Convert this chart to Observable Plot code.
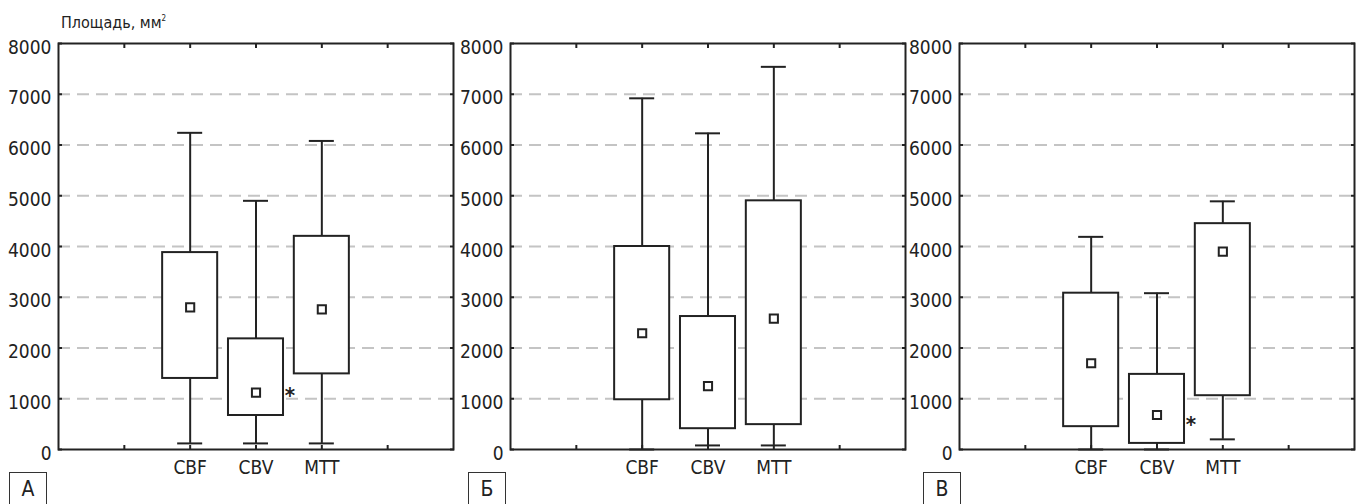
<!DOCTYPE html>
<html><head><meta charset="utf-8">
<script src="https://cdn.jsdelivr.net/npm/d3@7"></script>
<script src="https://cdn.jsdelivr.net/npm/@observablehq/plot@0.6"></script>
<style>
body{margin:0;background:#fff;}
#wrap{position:relative;width:1362px;height:504px;overflow:hidden;font-family:"Liberation Sans Narrow","Arial Narrow","DejaVu Sans Condensed",sans-serif;color:#222;}
.panel{position:absolute;top:0;width:457px;height:504px;}
.tag{position:absolute;top:472px;width:36px;height:40px;border:1.3px solid #333;border-bottom:none;font-size:21px;text-align:center;line-height:33px;}
#title{position:absolute;left:61px;top:13px;font-size:16px;white-space:nowrap;}
#title sup{font-size:8px;vertical-align:top;position:relative;top:1px;}
</style></head><body><div id="wrap"><div id="title">Площадь, мм<sup>2</sup></div></div>
<script>
const categories = ["CBF", "CBV", "MTT"];
const panelLabels = ["А", "Б", "В"];
const yTicks = [0, 1000, 2000, 3000, 4000, 5000, 6000, 7000, 8000];
const gridTicks = [1000, 2000, 3000, 4000, 5000, 6000, 7000];
const slotTicks = [1, 2, 3, 4, 5];

// Panel A
const aMin = [120, 120, 120];
const aQ1 = [1400, 670, 1490];
const aMean = [2800, 1120, 2760];
const aQ3 = [3880, 2180, 4200];
const aMax = [6240, 4900, 6080];
const aStar = [null, 1100, null];
// Panel Б
const bMin = [0, 80, 80];
const bQ1 = [980, 410, 490];
const bMean = [2290, 1250, 2580];
const bQ3 = [4000, 2620, 4900];
const bMax = [6920, 6230, 7540];
const bStar = [null, null, null];
// Panel В
const cMin = [0, 0, 200];
const cQ1 = [450, 120, 1060];
const cMean = [1700, 680, 3900];
const cQ3 = [3080, 1480, 4450];
const cMax = [4190, 3080, 4890];
const cStar = [null, 530, null];

const panelLeft = [0, 452, 901];
const tagLeft = [9, 468, 923];
const FONT = '"Liberation Sans Narrow","Arial Narrow","DejaVu Sans Condensed",sans-serif';
const INK = "#222";

function panel(mins, q1, means, q3, maxs, stars) {
  const data = categories.map((c, i) => ({cat: c, pos: i + 2, lo: mins[i], q1: q1[i], mean: means[i], q3: q3[i], hi: maxs[i], star: stars[i]}));
  const half = 0.418, cap = 0.19;
  return Plot.plot({
    width: 457, height: 504,
    marginLeft: 58, marginRight: 4, marginTop: 43, marginBottom: 55,
    style: {fontFamily: FONT, fontSize: "19px", color: INK, background: "transparent", overflow: "visible"},
    x: {domain: [0, 6], axis: null},
    y: {domain: [0, 8000], axis: null},
    marks: [
      Plot.gridY({ticks: gridTicks, stroke: "#c4c4c4", strokeOpacity: 1, strokeWidth: 2, strokeDasharray: "12,7"}),
      Plot.ruleX(data, {x: "pos", y1: "lo", y2: "q1", stroke: INK, strokeWidth: 2}),
      Plot.ruleX(data, {x: "pos", y1: "q3", y2: "hi", stroke: INK, strokeWidth: 2}),
      Plot.ruleY(data, {y: "lo", x1: d => d.pos - cap, x2: d => d.pos + cap, stroke: INK, strokeWidth: 2}),
      Plot.ruleY(data, {y: "hi", x1: d => d.pos - cap, x2: d => d.pos + cap, stroke: INK, strokeWidth: 2}),
      Plot.rectY(data, {x1: d => d.pos - half, x2: d => d.pos + half, y1: "q1", y2: "q3", fill: "white", stroke: INK, strokeWidth: 2}),
      Plot.dot(data, {x: "pos", y: "mean", symbol: "square", r: 4.6, fill: "white", stroke: INK, strokeWidth: 2}),
      Plot.text(data.filter(d => d.star != null), {x: "pos", y: "star", text: () => "*", dx: 34, dy: 2, fontSize: 22, fontWeight: "bold", fill: INK}),
      Plot.frame({stroke: INK, strokeWidth: 2}),
      Plot.axisY({anchor: "left", ticks: yTicks, tickSize: 0, tickPadding: 7, dy: 4, tickFormat: "d", label: null, fontSize: 19}),
      Plot.axisY({anchor: "left", ticks: yTicks, tickSize: 4, dx: 4, tickFormat: () => "", label: null, strokeWidth: 2}),
      Plot.axisY({anchor: "right", ticks: yTicks, tickSize: 4, dx: -4, tickFormat: () => "", label: null, strokeWidth: 2}),
      Plot.axisX({anchor: "bottom", ticks: slotTicks, tickSize: 4, dy: -4, tickFormat: () => "", label: null, strokeWidth: 2}),
      Plot.axisX({anchor: "top", ticks: slotTicks, tickSize: 4, dy: 4, tickFormat: () => "", label: null, strokeWidth: 2}),
      Plot.axisX({anchor: "bottom", ticks: data.map(d => d.pos), tickSize: 0, tickPadding: 11, tickFormat: (d, i) => categories[i], label: null, fontSize: 19})
    ]
  });
}

const wrap = document.getElementById("wrap");
const sets = [
  [aMin, aQ1, aMean, aQ3, aMax, aStar],
  [bMin, bQ1, bMean, bQ3, bMax, bStar],
  [cMin, cQ1, cMean, cQ3, cMax, cStar]
];
sets.forEach((s, k) => {
  const div = document.createElement("div");
  div.className = "panel";
  div.style.left = panelLeft[k] + "px";
  div.appendChild(panel(...s));
  wrap.appendChild(div);
  const tag = document.createElement("div");
  tag.className = "tag";
  tag.style.left = tagLeft[k] + "px";
  tag.textContent = panelLabels[k];
  wrap.appendChild(tag);
});
</script></body></html>
